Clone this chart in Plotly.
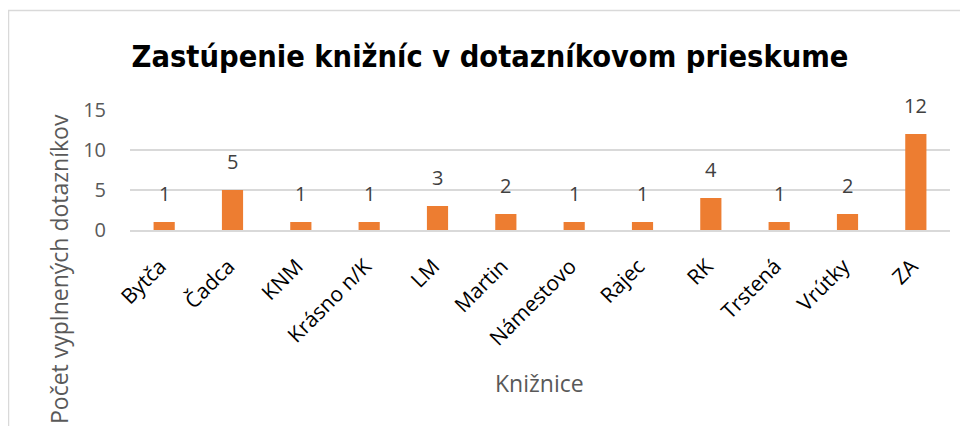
import plotly.graph_objs as go

kniznice = ['Bytča', 'Čadca', 'KNM', 'Krásno n/K', 'LM', 'Martin',
            'Námestovo', 'Rajec', 'RK', 'Trstená', 'Vrútky', 'ZA']
pocet = [1, 5, 1, 1, 3, 2, 1, 1, 4, 1, 2, 12]
y_ticks = [0, 5, 10, 15]

# stranka ma 8px okraj tela, preto je graf o 8px mensi
OFF = 8
W, H = 968 - OFF, 426 - OFF
L, R, T, B = 122, 18, 102, 196
pw, ph = W - L - R, H - T - B


def px_x(p):
    return (p - OFF - L) / pw


def px_y(p):
    return (H - B - (p - OFF)) / ph


trace = go.Bar(
    x=kniznice,
    y=pocet,
    marker=dict(color='#ED7D31', line=dict(width=0)),
    hoverinfo='x+y'
)

# popisky hodnot nad stlpcami
labels = [dict(x=k, y=v, text=str(v), xref='x', yref='y',
               yanchor='bottom', yshift=13, showarrow=False,
               font=dict(family='Open Sans', size=20, color='#404040'))
          for k, v in zip(kniznice, pocet)]

layout = go.Layout(
    width=W,
    height=H,
    margin=dict(l=L, r=R, t=T, b=B, autoexpand=False),
    plot_bgcolor='#FFFFFF',
    paper_bgcolor='#FFFFFF',
    bargap=0.69,
    showlegend=False,
    title=dict(
        text='<b>Zastúpenie knižníc v dotazníkovom prieskume</b>',
        font=dict(family='Liberation Sans Narrow, DejaVu Sans Condensed, Liberation Sans',
                  size=30.5, color='#000000'),
        x=px_x(490), xref='paper', xanchor='center',
        y=1 - (56 - OFF) / H, yanchor='middle'
    ),
    xaxis=dict(
        tickangle=-45,
        tickfont=dict(family='Open Sans', size=21, color='#000000'),
        showline=True, linecolor='#D9D9D9', linewidth=1.5,
        ticks='', showgrid=False, automargin=False,
        ticklabelstandoff=14, ticklabelshift=-4
    ),
    yaxis=dict(
        range=[0, 15],
        tickvals=y_ticks,
        tickfont=dict(family='Open Sans', size=20, color='#595959'),
        gridcolor='#D9D9D9', gridwidth=1.5,
        zeroline=False, showline=False, ticks='',
        automargin=False, ticklabelstandoff=23
    ),
    annotations=labels + [
        dict(text='Počet vyplnených dotazníkov', textangle=-90,
             xref='paper', yref='paper', x=px_x(59), y=px_y(269),
             xanchor='center', yanchor='middle', showarrow=False,
             font=dict(family='Open Sans', size=23, color='#595959')),
        dict(text='Knižnice',
             xref='paper', yref='paper', x=px_x(539), y=px_y(383),
             xanchor='center', yanchor='middle', showarrow=False,
             font=dict(family='Open Sans', size=23, color='#595959')),
    ],
    shapes=[dict(
        type='rect', xref='paper', yref='paper',
        x0=px_x(8.5), x1=px_x(968 + 20), y0=px_y(426 + 20), y1=px_y(10.5),
        line=dict(color='#D9D9D9', width=1.5), fillcolor='rgba(0,0,0,0)',
        layer='below'
    )]
)

fig = go.Figure(data=[trace], layout=layout)
fig.write_html("out.html")
